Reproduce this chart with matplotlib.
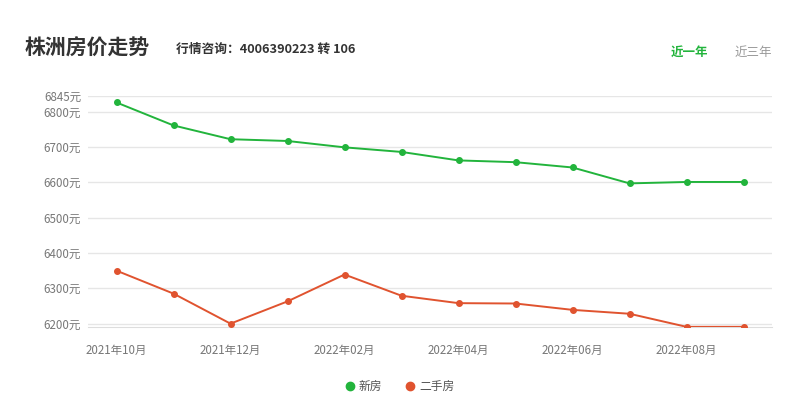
import matplotlib
matplotlib.use('Agg')
import matplotlib.pyplot as plt

plt.rcParams['font.family'] = ['Noto Sans CJK SC', 'DejaVu Sans']

months = ['2021年10月', '2021年11月', '2021年12月', '2022年01月', '2022年02月', '2022年03月',
          '2022年04月', '2022年05月', '2022年06月', '2022年07月', '2022年08月', '2022年09月']
new_house = [6826, 6761, 6722, 6717, 6699, 6686, 6662, 6657, 6642, 6597, 6601, 6601]
second_hand = [6350, 6285, 6200, 6263, 6339, 6279, 6258, 6257, 6239, 6228, 6191, 6191]
y_ticks = [6200, 6300, 6400, 6500, 6600, 6700, 6800, 6845]

green = '#22b43c'
red = '#e0532f'
grid_c = '#e6e6e6'
label_c = '#777777'

fig = plt.figure(figsize=(8, 3.99), dpi=100)
ax = fig.add_axes([0.11, 0.18, 0.855, 0.58])

x = list(range(len(months)))
ax.plot(x, new_house, color=green, lw=1.4, marker='o', ms=4, zorder=3)
ax.plot(x, second_hand, color=red, lw=1.4, marker='o', ms=4, zorder=3)

ax.set_xlim(-0.5, len(months) - 0.5)
ax.set_ylim(6190, 6845)
ax.set_yticks(y_ticks)
ax.set_yticklabels([f'{v}元' for v in y_ticks])
ax.set_xticks(x[::2])
ax.set_xticklabels(months[::2])
ax.tick_params(axis='both', length=0, labelsize=8.3, colors=label_c)
ax.tick_params(axis='y', pad=5)
ax.tick_params(axis='x', pad=12)
ax.grid(axis='y', color=grid_c, lw=1)
for s in ['top', 'right', 'left']:
    ax.spines[s].set_visible(False)
ax.spines['bottom'].set_color('#dddddd')
ax.set_axisbelow(True)

# header
fig.text(25 / 800, 1 - 48 / 399, '株洲房价走势', fontsize=15, fontweight='bold',
         color='#333333', va='center', ha='left')
fig.text(176 / 800, 1 - 49 / 399, '行情咨询：4006390223 转 106', fontsize=9.2,
         fontweight='bold', color='#333333', va='center', ha='left')
fig.text(689 / 800, 1 - 52 / 399, '近一年', fontsize=9, fontweight='bold', color=green,
         va='center', ha='center')
fig.text(753 / 800, 1 - 52 / 399, '近三年', fontsize=9, color='#999999', va='center', ha='center')

# legend
ly = 1 - 386 / 399
fig.lines.append(plt.Line2D([350 / 800], [ly], marker='o', ms=6, color=green,
                            transform=fig.transFigure))
fig.text(359 / 800, ly, '新房', fontsize=8.5, color='#555555', va='center', ha='left')
fig.lines.append(plt.Line2D([410 / 800], [ly], marker='o', ms=6, color=red,
                            transform=fig.transFigure))
fig.text(419 / 800, ly, '二手房', fontsize=8.5, color='#555555', va='center', ha='left')

fig.savefig('out.png', dpi=100, facecolor='white')
